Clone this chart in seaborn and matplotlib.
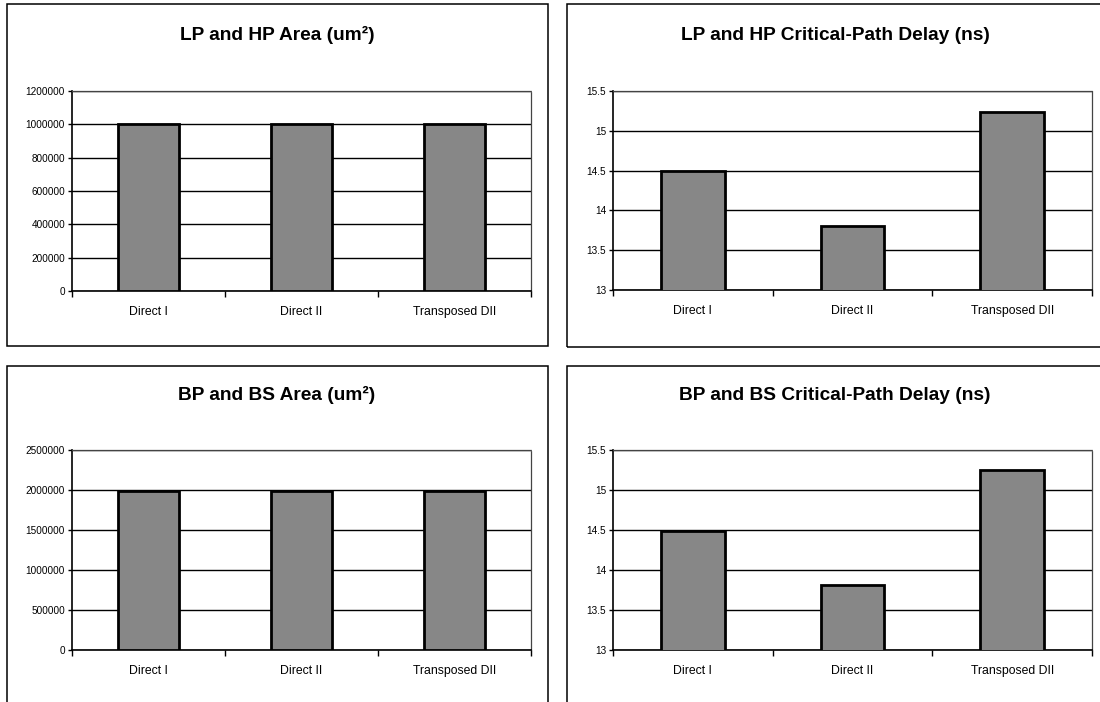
import matplotlib
matplotlib.use("Agg")
import matplotlib.pyplot as plt
from matplotlib.patches import Rectangle
import seaborn as sns
import pandas as pd

# Filter structures compared in each panel
categories = ["Direct I", "Direct II", "Transposed DII"]

# LP/HP filters
lphp_area = [1000000, 1000000, 1000000]
lphp_delay = [14.49, 13.81, 15.24]

# BP/BS filters
bpbs_area = [1990000, 1990000, 1990000]
bpbs_delay = [14.49, 13.81, 15.25]

titles = [
    "LP and HP Area (um\u00b2)",
    "LP and HP Critical-Path Delay (ns)",
    "BP and BS Area (um\u00b2)",
    "BP and BS Critical-Path Delay (ns)",
]

area_ticks_lphp = [0, 200000, 400000, 600000, 800000, 1000000, 1200000]
area_ticks_bpbs = [0, 500000, 1000000, 1500000, 2000000, 2500000]
delay_ticks = [13, 13.5, 14, 14.5, 15, 15.5]
delay_labels = ["13", "13.5", "14", "14.5", "15", "15.5"]

sns.set_theme(style="white")
plt.rcParams["font.family"] = ["Liberation Sans", "DejaVu Sans"]
plt.rcParams["text.color"] = "black"
plt.rcParams["xtick.color"] = "black"
plt.rcParams["ytick.color"] = "black"
plt.rcParams["axes.labelcolor"] = "black"

W, H = 1100, 702
fig = plt.figure(figsize=(W / 100, H / 100), dpi=100)
fig.patch.set_facecolor("white")


def fig_box(x0, y0, x1, y1):
    """Pixel box (top-left origin) -> figure fraction [left, bottom, width, height]."""
    return [x0 / W, 1 - y1 / H, (x1 - x0) / W, (y1 - y0) / H]


# Chart frames
frames = [(7, 4, 548, 346), (567, 4, 1104, 347), (7, 366, 548, 712), (567, 366, 1104, 712)]
for (x0, y0, x1, y1) in frames:
    l, b, w, h = fig_box(x0, y0, x1, y1)
    fig.patches.append(Rectangle((l, b), w, h, transform=fig.transFigure,
                                 facecolor="none", edgecolor="black", linewidth=1.1))

plot_boxes = [(72, 91, 531, 291), (613, 91, 1092, 290), (72, 450, 531, 650), (613, 450, 1092, 650)]
title_pos = [(277, 35), (835, 35), (277, 395), (835, 395)]

panels = [
    (lphp_area, area_ticks_lphp, [str(t) for t in area_ticks_lphp], (0, 1200000)),
    (lphp_delay, delay_ticks, delay_labels, (13, 15.5)),
    (bpbs_area, area_ticks_bpbs, [str(t) for t in area_ticks_bpbs], (0, 2500000)),
    (bpbs_delay, delay_ticks, delay_labels, (13, 15.5)),
]

for (vals, yt, ylabels, ylim), box, title, (tx, ty) in zip(panels, plot_boxes, titles, title_pos):
    ax = fig.add_axes(fig_box(*box))
    df = pd.DataFrame({"structure": categories, "value": vals})
    sns.barplot(data=df, x="structure", y="value", color="#878787", saturation=1,
                width=0.4, edgecolor="black", linewidth=2.0, ax=ax, zorder=3)
    ax.set_ylim(*ylim)
    ax.set_xlim(-0.5, 2.5)
    ax.set_yticks(yt)
    ax.set_yticklabels(ylabels, fontsize=7.2)
    ax.set_xticks(range(len(categories)))
    ax.set_xticklabels(categories, fontsize=8.8)
    ax.set_xticks([-0.5, 0.5, 1.5, 2.5], minor=True)
    ax.tick_params(axis="x", which="major", length=0, pad=10.5)
    ax.tick_params(axis="x", which="minor", length=4, width=1, color="black", direction="out", bottom=True)
    ax.tick_params(axis="y", length=3, width=1, color="black", direction="out", pad=2, left=True)
    ax.set_xlabel("")
    ax.set_ylabel("")
    ax.set_axisbelow(True)
    ax.yaxis.grid(True, color="black", linewidth=1.0)
    ax.xaxis.grid(False)
    for side in ("left", "bottom"):
        ax.spines[side].set_color("black")
        ax.spines[side].set_linewidth(1.2)
    for side in ("top", "right"):
        ax.spines[side].set_color("#444444")
        ax.spines[side].set_linewidth(0.9)
        ax.spines[side].set_linestyle((0, (1, 1)))
    fig.text(tx / W, 1 - ty / H, title, ha="center", va="center",
             fontsize=13.8, fontweight="bold", color="black")

fig.savefig("out.png", dpi=100, facecolor="white")
